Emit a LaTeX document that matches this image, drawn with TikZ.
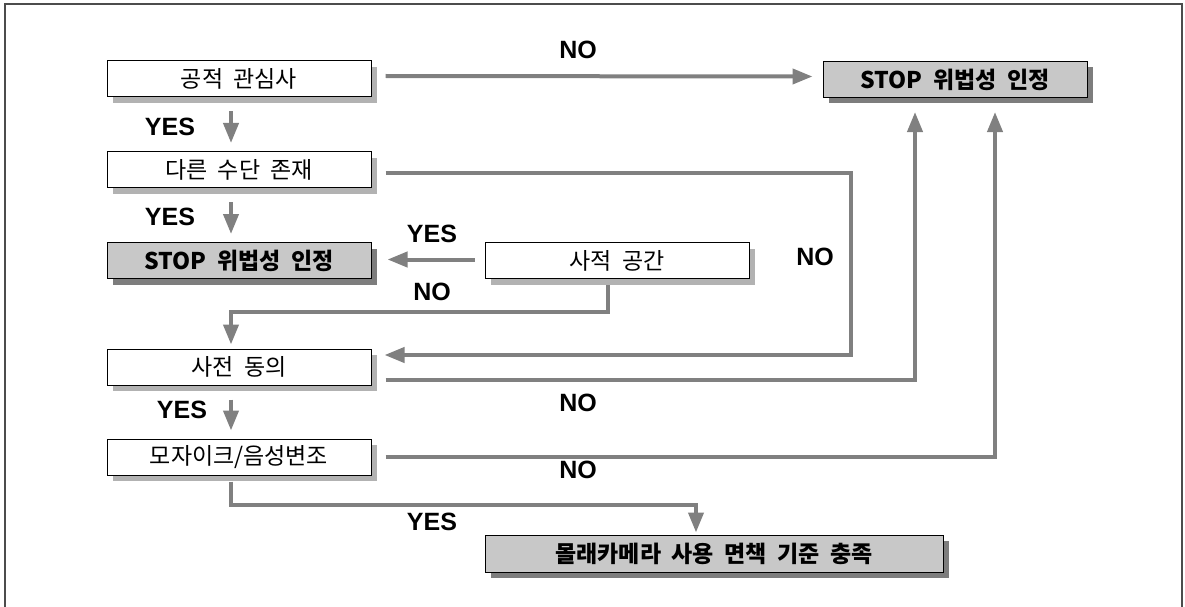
\documentclass[tikz,border=0pt]{standalone}
\usepackage{fontspec}
\setmainfont{Liberation Sans}
\newfontfamily\kr[WordSpace=2]{Noto Sans CJK KR}
\usepackage{tikz}
\usetikzlibrary{arrows.meta,shadows}
\definecolor{linegray}{RGB}{128,128,128}
\definecolor{stopgray}{RGB}{200,200,200}
\definecolor{shadelight}{RGB}{178,178,178}
\definecolor{shadedark}{RGB}{125,125,125}

\begin{document}
\begin{tikzpicture}[x=1pt, y=-1pt,
  box/.style={rectangle, draw, line width=1pt, fill=white, minimum width=264pt, minimum height=36pt,
    inner sep=0pt, font=\kr\fontsize{23}{26}\selectfont,
    general shadow={shadow xshift=6pt, shadow yshift=-6pt, fill=shadelight}},
  stopbox/.style={box, fill=stopgray, font=\kr\bfseries\fontsize{23}{26}\selectfont,
    general shadow={shadow xshift=6pt, shadow yshift=-6pt, fill=shadedark}},
  link/.style={draw=linegray, line width=4pt, -{Triangle[length=20pt,width=15pt]}},
  lbl/.style={font=\bfseries\fontsize{25}{28}\selectfont}
]
\useasboundingbox (0,0) rectangle (1185,607);
% frame
\draw[line width=1.5pt, black!70] (5,612) -- (5,4) -- (1182,4) -- (1182,612);

% left column
\node[box] (interest) at (239,79) {공적 관심사};
\node[box] (means) at (239,169.5) {다른 수단 존재};
\node[stopbox] (stopL) at (239,260.5) {STOP 위법성 인정};
\node[box] (consent) at (239,367) {사전 동의};
\node[box] (mosaic) at (239,457) {모자이크/음성변조};

% middle and right
\node[box] (private) at (617,260.5) {사적 공간};
\node[stopbox] (stopR) at (955,79.5) {STOP 위법성 인정};
\node[stopbox, minimum width=458pt, minimum height=37pt] (final) at (714,553.5) {몰래카메라 사용 면책 기준 충족};

% YES arrows
\draw[link, shorten <=14pt, shorten >=8pt] ([xshift=-8pt]interest.south) -- ([xshift=-8pt]means.north);
\draw[link, shorten <=14pt, shorten >=8pt] ([xshift=-8pt]means.south) -- ([xshift=-8pt]stopL.north);
\draw[link, shorten <=14pt, shorten >=8pt] ([xshift=-8pt]consent.south) -- ([xshift=-8pt]mosaic.north);
\draw[link] ([xshift=-10pt,yshift=1pt]private.west) -- ([xshift=16pt,yshift=1pt]stopL.east);
\draw[link] ([xshift=-8pt,yshift=-6pt]mosaic.south) -- ++(0,23) -| ([xshift=-18pt,yshift=2pt]final.north);

% NO arrows
\draw[link] ([xshift=14pt,yshift=3pt]interest.east) -- ([xshift=-10pt,yshift=3pt]stopR.west);
\draw[link] ([xshift=14pt,yshift=-3pt]means.east) -- ++(465,0) |- ([xshift=13pt,yshift=12pt]consent.east);
\draw[link] ([xshift=-9pt,yshift=-6pt]private.south) -- ++(0,27) -| ([xshift=-8pt,yshift=4pt]consent.north);
\draw[link] ([xshift=14pt,yshift=-13pt]consent.east) -| ([xshift=-40pt,yshift=-14pt]stopR.south);
\draw[link] ([xshift=14pt]mosaic.east) -| ([xshift=40pt,yshift=-14pt]stopR.south);

% labels
\node[lbl] (no1) at (578,50) {NO};
\node[lbl] (yes1) at (170,127) {YES};
\node[lbl] (yes2) at (170,217) {YES};
\node[lbl] (yes3) at (432,234) {YES};
\node[lbl] (no2) at (432,292) {NO};
\node[lbl] (no3) at (815,257) {NO};
\node[lbl] (no4) at (578,403) {NO};
\node[lbl] (yes4) at (182,410) {YES};
\node[lbl] (no5) at (578,470) {NO};
\node[lbl] (yes5) at (432,522) {YES};
\end{tikzpicture}
\end{document}
